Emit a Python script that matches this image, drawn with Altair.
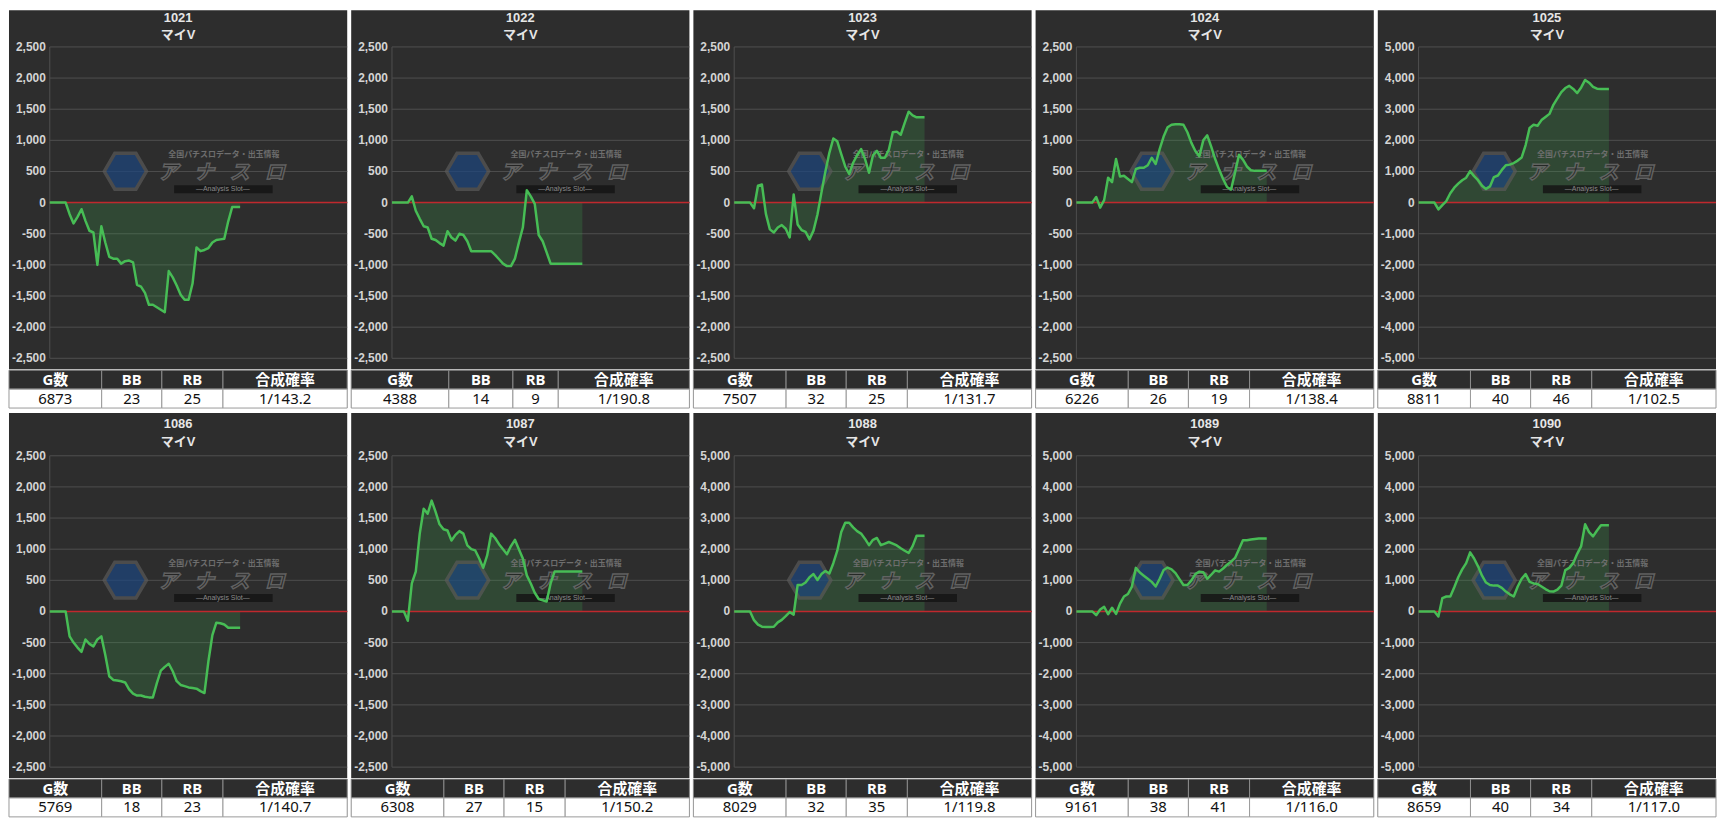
import altair as alt
import pandas as pd

# ---------------- data ----------------
machine_ids = ["1021", "1022", "1023", "1024", "1025", "1086", "1087", "1088", "1089", "1090"]
machine_names = ["マイV"] * 10
g_counts = [6873, 4388, 7507, 6226, 8811, 5769, 6308, 8029, 9161, 8659]
bb_counts = [23, 14, 32, 26, 40, 18, 27, 32, 38, 40]
rb_counts = [25, 9, 25, 19, 46, 23, 15, 35, 41, 34]
combined_prob = ["1/143.2", "1/190.8", "1/131.7", "1/138.4", "1/102.5",
                 "1/140.7", "1/150.2", "1/119.8", "1/116.0", "1/117.0"]
y_limits = [2500, 2500, 2500, 2500, 5000, 2500, 2500, 5000, 5000, 5000]
table_headers = ["G数", "BB", "RB", "合成確率"]

diff_1021 = [0, 0, 0, 0, 0, -186, -335, -229, -106, -293, -452, -480, -1000, -380, -640, -870, -900, -900,
             -980, -940, -930, -960, -1320, -1350, -1450, -1640, -1640, -1680, -1720, -1760, -1100, -1200,
             -1330, -1480, -1560, -1560, -1300, -720, -780, -760, -730, -640, -600, -590, -580, -300, -70, -70, -70]
diff_1022 = [0, 0, 0, 0, 0, 100, -130, -260, -380, -400, -580, -600, -650, -690, -460, -560, -610, -500,
             -520, -620, -780, -780, -780, -780, -780, -780, -840, -910, -980, -1020, -1020, -900, -640, -400,
             200, 100, -20, -520, -620, -800, -980, -980, -980, -980, -980, -980, -980, -980, -980]
diff_1023 = [0, 0, 0, 0, 0, -90, 270, 290, -180, -430, -480, -400, -360, -420, -560, 130, -350, -440,
             -470, -590, -450, -190, 160, 500, 800, 1030, 985, 780, 580, 460, 640, 760, 860, 700, 480, 760,
             830, 720, 720, 850, 1130, 1140, 1090, 1280, 1460, 1400, 1370, 1370, 1370]
diff_1024 = [0, 0, 0, 0, 0, 90, -80, 40, 400, 330, 700, 420, 430, 380, 330, 540, 560, 560, 600, 720, 620,
             860, 1060, 1210, 1250, 1260, 1260, 1250, 1130, 960, 830, 745, 1000, 1080, 900, 700, 530, 380,
             250, 210, 480, 770, 690, 580, 520, 510, 510, 510, 510]
diff_1025 = [0, 0, 0, 0, 0, -220, -80, 50, 300, 480, 610, 720, 800, 1010, 850, 720, 540, 440, 520, 820,
             870, 1050, 1200, 1220, 1270, 1350, 1450, 1850, 2400, 2500, 2470, 2650, 2750, 2850, 3140, 3350,
             3550, 3680, 3750, 3650, 3520, 3700, 3940, 3850, 3720, 3660, 3650, 3650, 3650]
diff_1086 = [0, 0, 0, 0, 0, -400, -500, -580, -650, -450, -520, -560, -450, -400, -700, -1040, -1100,
             -1110, -1120, -1140, -1250, -1320, -1350, -1350, -1370, -1380, -1380, -1150, -950, -890, -840,
             -960, -1120, -1180, -1200, -1220, -1230, -1240, -1280, -1310, -800, -380, -180, -190, -210,
             -260, -260, -260, -260]
diff_1087 = [0, 0, 0, 0, -150, 450, 640, 1250, 1650, 1570, 1780, 1600, 1400, 1320, 1300, 1140, 1230, 1290,
             1250, 1060, 1000, 980, 850, 700, 900, 1250, 1180, 1080, 1000, 920, 1050, 1150, 1000, 850, 580,
             450, 300, 200, 180, 160, 450, 640, 640, 640, 640, 640, 640, 640, 640]
diff_1088 = [0, 0, 0, 0, 0, -280, -425, -490, -500, -500, -490, -350, -270, -150, -20, -100, 850, 850, 930,
             1100, 1200, 1010, 1200, 1300, 1220, 1550, 1950, 2550, 2850, 2850, 2700, 2580, 2500, 2330, 2130,
             2300, 2360, 2130, 2180, 2230, 2180, 2120, 2030, 1950, 1880, 2100, 2430, 2430, 2430]
diff_1089 = [0, 0, 0, 0, 0, -120, 60, 150, -90, 120, -80, 250, 480, 560, 800, 1400, 1250, 1150, 1050, 950,
             800, 1050, 1330, 1410, 1350, 1230, 1040, 850, 850, 1000, 1200, 1280, 1260, 1050, 1180, 1320,
             1280, 1380, 1500, 1600, 1720, 2000, 2290, 2290, 2310, 2330, 2340, 2340, 2340]
diff_1090 = [0, 0, 0, 0, 0, -160, 430, 480, 480, 780, 1100, 1350, 1550, 1900, 1700, 1450, 1150, 930, 850,
             830, 830, 760, 640, 550, 480, 800, 1050, 1200, 950, 900, 880, 800, 720, 650, 640, 700, 830,
             1330, 1400, 1560, 1850, 2100, 2800, 2550, 2410, 2600, 2770, 2770, 2770]

series = [diff_1021, diff_1022, diff_1023, diff_1024, diff_1025,
          diff_1086, diff_1087, diff_1088, diff_1089, diff_1090]

# ---------------- layout & style ----------------
PANEL_W = 340          # whole panel width (label strip + plot)
LABEL_W = 41           # strip for the value labels, inside the panel
TITLE_H_ROW = [37, 43] # title strip above the plot, per row
PLOT_H = 313
GAP_H = 11             # between plot and table
TABLE_H = 38
X_MAX = 75
X_MIN = -LABEL_W * X_MAX / (PANEL_W - LABEL_W)
REF_W = 343
DEFAULT_EDGES = [0, 94, 155, 217, 343]
EDGE_OVERRIDE = {"1022": [0, 99, 164, 210, 343]}

BG = "#2d2d2d"
GRID = "#4f4f4f"
LINE = "#47bd55"
AREA = "#3a9a4a"
RED = "#c0282d"
LATIN = "Liberation Sans, Noto Sans CJK JP, sans-serif"
TABLE_FONT = "Noto Sans, Noto Sans CJK JP, sans-serif"
HEX = "M -1 0 L -0.5 -0.85 L 0.5 -0.85 L 1 0 L 0.5 0.85 L -0.5 0.85 Z"
LOGO_CHARS = ["ア", "ナ", "ス", "ロ"]
LOGO_X = [160, 196, 232, 267]


def watermark_layers(top):
    wm = alt.Chart(pd.DataFrame({"k": [0]}))
    layers = [wm.mark_point(shape=HEX, size=1800, filled=True, fill="#1d467f", stroke="#5a5a5a",
                            strokeWidth=3.5, opacity=0.7).encode(x=alt.value(117), y=alt.value(top + 125))]
    for ch, px in zip(LOGO_CHARS, LOGO_X):
        layers.append(wm.mark_text(text=ch, fontSize=20, fontWeight="bold", fontStyle="italic",
                                   font="Noto Sans CJK JP", fill="#242424", stroke="#6a6a6a",
                                   strokeWidth=1.5, opacity=0.85).encode(x=alt.value(px), y=alt.value(top + 127)))
    layers.append(wm.mark_text(text="全国パチスロデータ・出玉情報", fontSize=8, fontWeight="bold",
                               font="Noto Sans CJK JP", color="#6e6e6e").encode(
        x=alt.value(216), y=alt.value(top + 109)))
    layers.append(wm.mark_rect(color="#151515", opacity=0.85).encode(
        x=alt.value(166), x2=alt.value(265), y=alt.value(top + 139), y2=alt.value(top + 147)))
    layers.append(wm.mark_text(text="—Analysis Slot—", fontSize=7, font="Liberation Sans",
                               color="#8a8a8a").encode(x=alt.value(215), y=alt.value(top + 143)))
    return layers


def diff_panel(i):
    top = TITLE_H_ROW[i // 5]
    vals = series[i]
    df = pd.DataFrame({"idx": list(range(len(vals))), "diff": vals})
    lim = y_limits[i]
    step = lim // 5
    ticks = list(range(-lim, lim + 1, step))
    tick_df = pd.DataFrame({"v": ticks, "lab": [f"{t:,}" for t in ticks],
                            "x0": [0] * len(ticks), "x1": [X_MAX] * len(ticks)})
    edge_df = pd.DataFrame({"x0": [0], "y0": [-lim], "y1": [lim]})
    zero_df = pd.DataFrame({"x0": [0], "x1": [X_MAX], "v": [0]})
    head_df = pd.DataFrame({"mid": [machine_ids[i]], "name": [machine_names[i]]})

    per_px = 2 * lim / PLOT_H
    xsc = alt.Scale(domain=[X_MIN, X_MAX], nice=False, zero=False)
    ysc = alt.Scale(domain=[-lim - GAP_H * per_px, lim + top * per_px], nice=False, zero=False)

    grid = alt.Chart(tick_df).mark_rule(color=GRID, strokeWidth=1).encode(
        x=alt.X("x0:Q", scale=xsc, axis=None), x2=alt.X2("x1"),
        y=alt.Y("v:Q", scale=ysc, axis=None))
    edge = alt.Chart(edge_df).mark_rule(color=GRID, strokeWidth=1).encode(
        x=alt.X("x0:Q", scale=xsc, axis=None),
        y=alt.Y("y0:Q", scale=ysc, axis=None), y2=alt.Y2("y1"))
    labels = alt.Chart(tick_df).mark_text(align="right", baseline="middle", font=LATIN, fontSize=12,
                                          fontWeight="bold", color="#d4d4d4").encode(
        x=alt.value(LABEL_W - 4), y=alt.Y("v:Q", scale=ysc, axis=None), text=alt.Text("lab:N"))

    base = alt.Chart(df)
    x_enc = alt.X("idx:Q", scale=xsc, axis=None)
    y_enc = alt.Y("diff:Q", scale=ysc, axis=None)
    area = base.mark_area(color=AREA, opacity=0.25).encode(x=x_enc, y=y_enc, y2=alt.datum(0))
    zero = alt.Chart(zero_df).mark_rule(color=RED, strokeWidth=1.5).encode(
        x=alt.X("x0:Q", scale=xsc, axis=None), x2=alt.X2("x1"),
        y=alt.Y("v:Q", scale=ysc, axis=None))
    line = base.mark_line(color=LINE, strokeWidth=2.5, strokeJoin="round").encode(x=x_enc, y=y_enc)

    t1 = max(7.5, top - 31.5)
    head = alt.Chart(head_df)
    title1 = head.mark_text(font=LATIN, fontSize=13, fontWeight="bold", color="#e6e6e6").encode(
        x=alt.value(PANEL_W / 2), y=alt.value(t1), text=alt.Text("mid:N"))
    title2 = head.mark_text(font=LATIN, fontSize=13, fontWeight="bold", color="#e6e6e6").encode(
        x=alt.value(PANEL_W / 2), y=alt.value(t1 + 18), text=alt.Text("name:N"))

    layers = [grid, edge, area, zero] + watermark_layers(top) + [line, labels, title1, title2]
    return alt.layer(*layers).properties(width=PANEL_W, height=top + PLOT_H + GAP_H)


def table_panel(i):
    edges = EDGE_OVERRIDE.get(machine_ids[i], DEFAULT_EDGES)
    row_vals = [str(g_counts[i]), str(bb_counts[i]), str(rb_counts[i]), combined_prob[i]]
    recs = []
    for j in range(4):
        recs.append({"row": "h", "x0": edges[j], "x1": edges[j + 1],
                     "xc": (edges[j] + edges[j + 1]) / 2, "label": table_headers[j]})
        recs.append({"row": "d", "x0": edges[j], "x1": edges[j + 1],
                     "xc": (edges[j] + edges[j + 1]) / 2, "label": row_vals[j]})
    tdf = pd.DataFrame(recs)
    xs = alt.Scale(domain=[0, REF_W], nice=False, zero=False)
    ys = alt.Scale(domain=["h", "d"], paddingInner=0, paddingOuter=0)
    base = alt.Chart(tdf)
    enc_rect = dict(x=alt.X("x0:Q", scale=xs, axis=None), x2=alt.X2("x1"),
                    y=alt.Y("row:N", scale=ys, axis=None))
    enc_text = dict(x=alt.X("xc:Q", scale=xs, axis=None), y=alt.Y("row:N", scale=ys, axis=None),
                    text=alt.Text("label:N"))
    head_rect = base.transform_filter("datum.row == 'h'").mark_rect(
        fill=BG, stroke="#8c8c8c", strokeWidth=1).encode(**enc_rect)
    data_rect = base.transform_filter("datum.row == 'd'").mark_rect(
        fill="#ffffff", stroke="#9a9a9a", strokeWidth=1).encode(**enc_rect)
    head_txt = base.transform_filter("datum.row == 'h'").mark_text(
        fontSize=15, fontWeight="bold", color="#ffffff", font=TABLE_FONT).encode(**enc_text)
    data_txt = base.transform_filter("datum.row == 'd'").mark_text(
        fontSize=15, color="#111111", font=TABLE_FONT).encode(**enc_text)
    return alt.layer(head_rect, data_rect, head_txt, data_txt).properties(width=PANEL_W, height=TABLE_H)


panels = [alt.vconcat(diff_panel(i), table_panel(i), spacing=0) for i in range(10)]
row1 = alt.hconcat(*panels[:5], spacing=2)
row2 = alt.hconcat(*panels[5:], spacing=2)

chart = alt.vconcat(row1, row2, spacing=4).properties(
    padding=0, background="#ffffff"
).configure_view(stroke=None, fill=BG)

chart.save("out.html", embed_options={"renderer": "svg", "actions": False})
